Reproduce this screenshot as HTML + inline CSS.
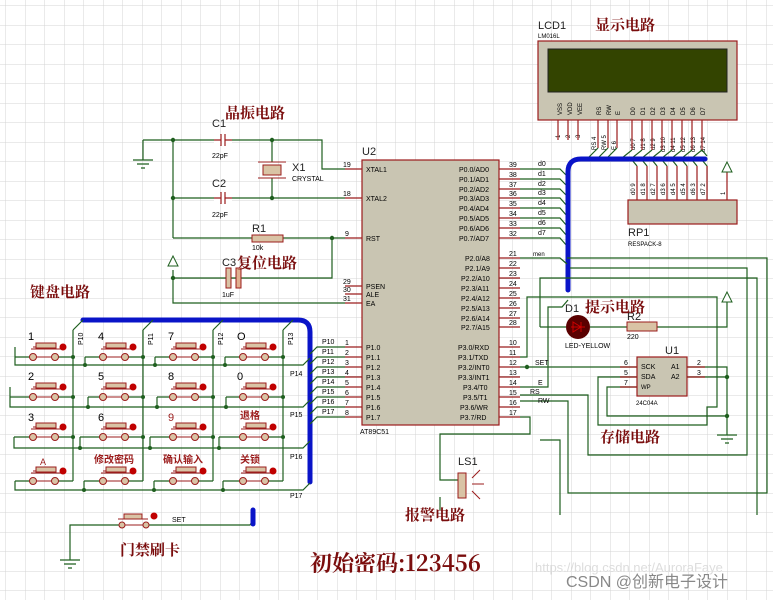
<!DOCTYPE html>
<html><head><meta charset="utf-8"><style>
html,body{margin:0;padding:0;background:#fff;}
svg{display:block;font-family:"Liberation Sans","Noto Sans CJK SC",sans-serif;}
.w{stroke:#1f5f1f;stroke-width:1.2;fill:none}
.p{stroke:#9b1c1c;stroke-width:1.2;fill:none}
.bus{stroke:#0a14c8;stroke-width:5;fill:none;stroke-linecap:round;stroke-linejoin:round}
.t{font-size:7px;fill:#000}
.s{font-size:9px;fill:#000}
.L{font-size:11px;fill:#222}
.cn{font-size:15px;font-weight:bold;fill:#7a0d0d;font-family:"Noto Serif CJK SC","Noto Sans CJK SC",serif}
.k{font-size:10px;font-weight:bold;fill:#9b1c1c}
.btn{fill:#d9c3a5;stroke:#9b1c1c;stroke-width:1}
.red{fill:#c00000}
.j{fill:#1f5f1f}
</style></head><body>
<svg width="773" height="600" viewBox="0 0 773 600" xmlns="http://www.w3.org/2000/svg">
<defs>
<pattern id="g" width="19.5" height="19.5" patternUnits="userSpaceOnUse" x="6" y="6">
<path d="M19.5 0V19.5M0 19.5H19.5" stroke="#d4d4d4" stroke-width="1"/>
</pattern>
<g id="key">
<line x1="22" y1="-10" x2="40" y2="-10" stroke="#9b1c1c" stroke-width="1"/>
<rect x="25" y="-14" width="20" height="5" class="btn"/>
<line x1="20" y1="-8" x2="50" y2="-8" stroke="#9b1c1c" stroke-width="1"/>
<circle cx="52" cy="-10" r="3.5" class="red"/>
<line x1="22" y1="0" x2="44" y2="0" stroke="#9b1c1c"/>
<circle cx="22" cy="0" r="3.5" class="btn"/>
<circle cx="44" cy="0" r="3.5" class="btn"/>
</g>
</defs>
<rect width="773" height="600" fill="#fff"/>
<rect width="773" height="600" fill="url(#g)"/>

<!-- crystal / reset -->
<path class="w" d="M143 140H322V169H345M173 140V238M173 198H345M173 238H345M332 238V278H173M173 270V303H345"/>
<path class="w" d="M143 140V160"/>
<path d="M133 160H153M137 164H149M141 168H145" stroke="#1f5f1f" stroke-width="1.2"/>
<path d="M173 256l-5 10h10z" fill="#fff" stroke="#1f5f1f"/>
<rect x="214" y="135" width="18" height="10" fill="#fff"/><path class="p" d="M214 140H221M221 134V146M225 134V146M225 140H232"/>
<rect x="214" y="193" width="18" height="10" fill="#fff"/><path class="p" d="M214 198H221M221 192V204M225 192V204M225 198H232"/>
<path class="w" d="M272 140V162M272 178V198"/>
<path d="M258 162H286M258 178H286" stroke="#9b1c1c"/>
<rect x="263" y="165" width="18" height="10" fill="#d9c3a5" stroke="#9b1c1c"/>
<rect x="252" y="235" width="31" height="7" fill="#d9c3a5" stroke="#9b1c1c"/>
<rect x="226" y="268" width="5" height="20" fill="#d9c3a5" stroke="#9b1c1c"/>
<rect x="236" y="268" width="5" height="20" fill="#e0b090" stroke="#9b1c1c"/>
<circle cx="173" cy="140" r="2.2" class="j"/><circle cx="272" cy="140" r="2.2" class="j"/><circle cx="173" cy="198" r="2.2" class="j"/><circle cx="272" cy="198" r="2.2" class="j"/><circle cx="332" cy="238" r="2.2" class="j"/><circle cx="173" cy="278" r="2.2" class="j"/>
<text x="212" y="127" class="L">C1</text><text x="212" y="158" class="t">22pF</text>
<text x="212" y="187" class="L">C2</text><text x="212" y="217" class="t">22pF</text>
<text x="292" y="171" class="L">X1</text><text x="292" y="181" class="t">CRYSTAL</text>
<text x="252" y="232" class="L">R1</text><text x="252" y="250" class="t">10k</text>
<text x="222" y="266" class="L">C3</text><text x="222" y="297" class="t">1uF</text>
<text x="225" y="118" class="cn">晶振电路</text>
<text x="237" y="268" class="cn">复位电路</text>
<text x="30" y="297" class="cn">键盘电路</text>

<!-- MCU -->
<rect x="362" y="160" width="137" height="265" fill="#c9c5b2" stroke="#9b1c1c" stroke-width="1.2"/>
<text x="362" y="155" class="L">U2</text>
<text x="360" y="434" class="t">AT89C51</text>
<path class="p" d="M345 169H362M345 198H362M345 238H362M345 286H362M345 294H362M345 303H362M345 347H362M345 357H362M345 367H362M345 377H362M345 387H362M345 397H362M345 407H362M345 417H362"/>
<g class="t">
<text x="343" y="167">19</text><text x="343" y="196">18</text><text x="345" y="236">9</text><text x="343" y="284">29</text><text x="343" y="292">30</text><text x="343" y="301">31</text>
<text x="345" y="345">1</text><text x="345" y="355">2</text><text x="345" y="365">3</text><text x="345" y="375">4</text><text x="345" y="385">5</text><text x="345" y="395">6</text><text x="345" y="405">7</text><text x="345" y="415">8</text>
<text x="366" y="172">XTAL1</text><text x="366" y="201">XTAL2</text><text x="366" y="241">RST</text><text x="366" y="289">PSEN</text><text x="366" y="297">ALE</text><text x="366" y="306">EA</text>
<text x="366" y="350">P1.0</text><text x="366" y="360">P1.1</text><text x="366" y="370">P1.2</text><text x="366" y="380">P1.3</text><text x="366" y="390">P1.4</text><text x="366" y="400">P1.5</text><text x="366" y="410">P1.6</text><text x="366" y="420">P1.7</text>
<text x="459" y="172">P0.0/AD0</text><text x="459" y="182">P0.1/AD1</text><text x="459" y="192">P0.2/AD2</text><text x="459" y="201">P0.3/AD3</text><text x="459" y="211">P0.4/AD4</text><text x="459" y="221">P0.5/AD5</text><text x="459" y="231">P0.6/AD6</text><text x="459" y="241">P0.7/AD7</text>
<text x="465" y="261">P2.0/A8</text><text x="465" y="271">P2.1/A9</text><text x="461" y="281">P2.2/A10</text><text x="461" y="291">P2.3/A11</text><text x="461" y="301">P2.4/A12</text><text x="461" y="311">P2.5/A13</text><text x="461" y="321">P2.6/A14</text><text x="461" y="330">P2.7/A15</text>
<text x="458" y="350">P3.0/RXD</text><text x="458" y="360">P3.1/TXD</text><text x="458" y="370">P3.2/INT0</text><text x="458" y="380">P3.3/INT1</text><text x="463" y="390">P3.4/T0</text><text x="463" y="400">P3.5/T1</text><text x="460" y="410">P3.6/WR</text><text x="460" y="420">P3.7/RD</text>
<text x="509" y="167">39</text><text x="509" y="177">38</text><text x="509" y="187">37</text><text x="509" y="196">36</text><text x="509" y="206">35</text><text x="509" y="216">34</text><text x="509" y="226">33</text><text x="509" y="236">32</text>
<text x="509" y="256">21</text><text x="509" y="266">22</text><text x="509" y="276">23</text><text x="509" y="286">24</text><text x="509" y="296">25</text><text x="509" y="306">26</text><text x="509" y="316">27</text><text x="509" y="325">28</text>
<text x="509" y="345">10</text><text x="509" y="355">11</text><text x="509" y="365">12</text><text x="509" y="375">13</text><text x="509" y="385">14</text><text x="509" y="395">15</text><text x="509" y="405">16</text><text x="509" y="415">17</text>
</g>
<path class="p" d="M499 169H520M499 179H520M499 189H520M499 198H520M499 208H520M499 218H520M499 228H520M499 238H520M499 258H520M499 268H520M499 278H520M499 288H520M499 298H520M499 308H520M499 318H520M499 327H520M499 347H520M499 357H520M499 367H520M499 377H520M499 387H520M499 397H520M499 407H520M499 417H520"/>
<path class="w" d="M520 169H560L567 176M520 179H560L567 186M520 189H560L567 196M520 198H560L567 206M520 208H560L567 216M520 218H560L567 226M520 228H560L567 236M520 238H560L567 246"/>
<g class="t"><text x="538" y="166">d0</text><text x="538" y="176">d1</text><text x="538" y="186">d2</text><text x="538" y="195">d3</text><text x="538" y="205">d4</text><text x="538" y="215">d5</text><text x="538" y="225">d6</text><text x="538" y="235">d7</text><text x="533" y="256" style="font-size:6px">men</text></g>

<!-- LCD -->
<rect x="538" y="41" width="199" height="79" fill="#c9c5b2" stroke="#9b1c1c" stroke-width="1.2"/>
<rect x="548" y="49" width="179" height="43" fill="#334400" stroke="#222"/>
<text x="538" y="29" class="L">LCD1</text><text x="538" y="38" class="t" style="font-size:6px">LM016L</text>
<text x="595" y="30" class="cn">显示电路</text>
<g class="t" style="font-size:6px">
<text transform="translate(562,115) rotate(-90)">VSS</text><text transform="translate(572,115) rotate(-90)">VDD</text><text transform="translate(582,115) rotate(-90)">VEE</text>
<text transform="translate(601,115) rotate(-90)">RS</text><text transform="translate(611,115) rotate(-90)">RW</text><text transform="translate(620,115) rotate(-90)">E</text>
<text transform="translate(635,115) rotate(-90)">D0</text><text transform="translate(645,115) rotate(-90)">D1</text><text transform="translate(655,115) rotate(-90)">D2</text><text transform="translate(665,115) rotate(-90)">D3</text><text transform="translate(675,115) rotate(-90)">D4</text><text transform="translate(685,115) rotate(-90)">D5</text><text transform="translate(695,115) rotate(-90)">D6</text><text transform="translate(705,115) rotate(-90)">D7</text>
<text transform="translate(560,138) rotate(-90)">1</text><text transform="translate(570,138) rotate(-90)">2</text><text transform="translate(580,138) rotate(-90)">3</text>
<text transform="translate(596,150) rotate(-90)">RS 4</text><text transform="translate(606,150) rotate(-90)">RW 5</text><text transform="translate(616,150) rotate(-90)">E 6</text>
<text transform="translate(635,150) rotate(-90)">d0 7</text><text transform="translate(645,150) rotate(-90)">d1 8</text><text transform="translate(655,150) rotate(-90)">d2 9</text><text transform="translate(665,152) rotate(-90)">d3 10</text><text transform="translate(675,152) rotate(-90)">d4 11</text><text transform="translate(685,152) rotate(-90)">d5 12</text><text transform="translate(695,152) rotate(-90)">d6 13</text><text transform="translate(705,152) rotate(-90)">d7 14</text>
<text transform="translate(635,195) rotate(-90)">d0 9</text><text transform="translate(645,195) rotate(-90)">d1 8</text><text transform="translate(655,195) rotate(-90)">d2 7</text><text transform="translate(665,195) rotate(-90)">d3 6</text><text transform="translate(675,195) rotate(-90)">d4 5</text><text transform="translate(685,195) rotate(-90)">d5 4</text><text transform="translate(695,195) rotate(-90)">d6 3</text><text transform="translate(705,195) rotate(-90)">d7 2</text><text transform="translate(725,195) rotate(-90)">1</text>
</g>
<path class="p" d="M558 120V140M568 120V140M578 120V140M598 120V148M608 120V148M617 120V148M632 120V150M642 120V150M652 120V150M662 120V150M672 120V150M682 120V150M692 120V150M702 120V150"/>
<path class="w" d="M598 148L588 158M608 148L598 158M617 148L607 158M632 150L622 158M642 150L632 158M652 150L642 158M662 150L652 158M672 150L662 158M682 150L672 158M692 150L682 158M702 150L692 158M702 150L707 156"/>
<path class="w" d="M632 160L637 166M642 160L647 166M652 160L657 166M662 160L667 166M672 160L677 166M682 160L687 166M692 160L697 166M702 160L707 166"/>
<path class="p" d="M637 166V200M647 166V200M657 166V200M667 166V200M677 166V200M687 166V200M697 166V200M707 166V200M727 172V200"/>
<path d="M727 162l-5 10h10z" fill="#fff" stroke="#1f5f1f"/>
<rect x="628" y="200" width="109" height="24" fill="#c9c5b2" stroke="#9b1c1c" stroke-width="1.2"/>
<text x="628" y="236" class="L">RP1</text><text x="628" y="246" class="t" style="font-size:6px">RESPACK-8</text>
<path class="bus" d="M568 290V172Q568 159 581 159H705"/>

<!-- right wiring -->
<path class="w" d="M520 258H560L567 264M567 258H767V493H568V401H520"/>
<path class="w" d="M570 268H747V455H588V395H520"/>
<path class="w" d="M540 327V278H757V515M560 515V440H540"/>
<path class="w" d="M540 327H566M590 327H627M657 327H727V302"/>
<path d="M727 292l-5 10h10z" fill="#fff" stroke="#1f5f1f"/>
<path class="w" d="M520 357H527V297H717V407H707V425H598V377H637"/>
<path class="w" d="M520 387H548V307H562L568 300"/>
<path class="w" d="M520 367H637"/><circle cx="527" cy="367" r="2.2" class="j"/>
<path class="w" d="M637 387H607V416H727M687 367H727V435M687 377H727"/>
<circle cx="727" cy="377" r="2.2" class="j"/><circle cx="727" cy="416" r="2.2" class="j"/>
<path d="M717 435H737M721 439H733M725 443H729" stroke="#1f5f1f" stroke-width="1.2"/>
<path class="w" d="M520 417H530V434H440V480H462"/>
<path class="w" d="M440 497V510"/>
<circle cx="578" cy="327" r="12" fill="#5a0000"/>
<path d="M571 327H585M581 322V332M581 327L573 322V332Z" stroke="#c00" fill="none"/>
<rect x="627" y="322" width="30" height="9" fill="#d9c3a5" stroke="#9b1c1c"/>
<text x="565" y="312" class="L">D1</text><text x="565" y="348" class="t" style="font-size:7px">LED-YELLOW</text>
<text x="627" y="320" class="L">R2</text><text x="627" y="339" class="t">220</text>
<text x="585" y="312" class="cn">提示电路</text>
<rect x="637" y="357" width="50" height="39" fill="#c9c5b2" stroke="#9b1c1c" stroke-width="1.2"/>
<path class="p" d="M620 367H637M620 377H637M620 387H637M687 367H705M687 377H705"/>
<g class="t"><text x="641" y="369">SCK</text><text x="641" y="379">SDA</text><text x="641" y="389" style="font-size:6px">WP</text><text x="671" y="369">A1</text><text x="671" y="379">A2</text>
<text x="624" y="365">6</text><text x="624" y="375">5</text><text x="624" y="385">7</text><text x="697" y="365">2</text><text x="697" y="375">3</text>
<text x="636" y="405" style="font-size:6px">24C04A</text><text x="535" y="365">SET</text><text x="538" y="385">E</text><text x="530" y="394">RS</text><text x="538" y="403">RW</text></g>
<text x="665" y="354" class="L">U1</text>
<text x="600" y="442" class="cn">存储电路</text>

<!-- LS1 -->
<rect x="458" y="473" width="8" height="25" fill="#d9c3a5" stroke="#9b1c1c"/>
<path d="M472 478L480 470M472 484H484M472 491L480 499" stroke="#9b1c1c"/>
<text x="458" y="465" class="L">LS1</text>
<text x="405" y="520" class="cn">报警电路</text>

<!-- keypad -->
<path class="bus" d="M83 320H298Q310 320 310 332V482"/>
<path class="w" d="M73 330L83 320M143 330L153 320M213 330L223 320M283 330L293 320"/>
<path class="w" d="M73 330V481M143 330V481M213 330V481M283 330V481"/>
<path class="w" d="M15 347V365H303L310 358M85 357V365M155 357V365M225 357V365"/>
<path class="w" d="M10 387V407H303L310 400M88 397V407M157 397V407M226 397V407"/>
<path class="w" d="M14 437V448H303L310 441M80 437V448M150 437V448M219 437V448"/>
<path class="w" d="M15 481V490H303L310 483M84 481V490M154 481V490M223 481V490"/>
<g class="w"><path d="M15 357H33M57 357H73M85 357H103M127 357H143M155 357H173M197 357H213M225 357H243M267 357H283"/>
<path d="M10 397H33M57 397H73M88 397H103M127 397H143M157 397H173M197 397H213M226 397H243M267 397H283"/>
<path d="M14 437H33M57 437H73M80 437H103M127 437H143M150 437H173M197 437H213M219 437H243M267 437H283"/>
<path d="M15 481H33M57 481H73M84 481H103M127 481H143M154 481H173M197 481H213M223 481H243M267 481H283"/></g>
<g>
<use href="#key" x="11" y="357"/><use href="#key" x="81" y="357"/><use href="#key" x="151" y="357"/><use href="#key" x="221" y="357"/>
<use href="#key" x="11" y="397"/><use href="#key" x="81" y="397"/><use href="#key" x="151" y="397"/><use href="#key" x="221" y="397"/>
<use href="#key" x="11" y="437"/><use href="#key" x="81" y="437"/><use href="#key" x="151" y="437"/><use href="#key" x="221" y="437"/>
<use href="#key" x="11" y="481"/><use href="#key" x="81" y="481"/><use href="#key" x="151" y="481"/><use href="#key" x="221" y="481"/>
</g>
<g class="j"><circle cx="73" cy="357" r="2"/><circle cx="143" cy="357" r="2"/><circle cx="213" cy="357" r="2"/><circle cx="283" cy="357" r="2"/><circle cx="85" cy="365" r="2"/><circle cx="155" cy="365" r="2"/><circle cx="225" cy="365" r="2"/>
<circle cx="73" cy="397" r="2"/><circle cx="143" cy="397" r="2"/><circle cx="213" cy="397" r="2"/><circle cx="283" cy="397" r="2"/><circle cx="88" cy="407" r="2"/><circle cx="157" cy="407" r="2"/><circle cx="226" cy="407" r="2"/>
<circle cx="73" cy="437" r="2"/><circle cx="143" cy="437" r="2"/><circle cx="213" cy="437" r="2"/><circle cx="283" cy="437" r="2"/><circle cx="80" cy="448" r="2"/><circle cx="150" cy="448" r="2"/><circle cx="219" cy="448" r="2"/>
<circle cx="84" cy="490" r="2"/><circle cx="154" cy="490" r="2"/><circle cx="223" cy="490" r="2"/></g>
<g class="s" style="font-size:11px">
<text x="28" y="340">1</text><text x="98" y="340">4</text><text x="168" y="340">7</text><text x="237" y="340">O</text>
<text x="28" y="380">2</text><text x="98" y="380">5</text><text x="168" y="380">8</text><text x="237" y="380">0</text>
<text x="28" y="421">3</text><text x="98" y="421">6</text><text x="168" y="421" fill="#9b1c1c">9</text>
<text x="40" y="465" fill="#9b1c1c" style="font-size:9px">A</text></g>
<text x="240" y="419" class="k">退格</text><text x="94" y="463" class="k">修改密码</text><text x="163" y="463" class="k">确认输入</text><text x="240" y="463" class="k">关锁</text>
<g class="t"><text transform="translate(83,345) rotate(-90)">P10</text><text transform="translate(153,345) rotate(-90)">P11</text><text transform="translate(223,345) rotate(-90)">P12</text><text transform="translate(293,345) rotate(-90)">P13</text>
<text x="290" y="376">P14</text><text x="290" y="417">P15</text><text x="290" y="459">P16</text><text x="290" y="498">P17</text>
<text x="322" y="344">P10</text><text x="322" y="354">P11</text><text x="322" y="364">P12</text><text x="322" y="374">P13</text><text x="322" y="384">P14</text><text x="322" y="394">P15</text><text x="322" y="404">P16</text><text x="322" y="414">P17</text></g>
<path class="w" d="M310 354L317 347H345M310 364L317 357H345M310 374L317 367H345M310 384L317 377H345M310 394L317 387H345M310 404L317 397H345M310 414L317 407H345M310 424L317 417H345"/>

<!-- SET -->
<path class="w" d="M70 560V525H120M147 525H250L253 520"/>
<path class="bus" d="M253 510V524"/>
<line x1="120" y1="525" x2="147" y2="525" stroke="#9b1c1c"/>
<circle cx="122" cy="525" r="3" class="btn"/><circle cx="146" cy="525" r="3" class="btn"/>
<rect x="124" y="514" width="18" height="5" class="btn"/><line x1="118" y1="519" x2="148" y2="519" stroke="#9b1c1c"/>
<circle cx="154" cy="516" r="3.5" class="red"/>
<text x="172" y="522" class="t">SET</text>
<path d="M60 560H80M64 564H76M68 568H72" stroke="#1f5f1f" stroke-width="1.2"/>
<text x="120" y="555" class="cn">门禁刷卡</text>

<text x="310" y="571" style="font-size:22px;font-weight:bold;fill:#7a0d0d;font-family:'Noto Serif CJK SC','Liberation Sans',serif">初始密码:123456</text>
<text x="535" y="572" style="font-size:13px;fill:#ddd">https://blog.csdn.net/AuroraFaye</text>
<text x="566" y="587" style="font-size:16px;fill:#888">CSDN @创新电子设计</text>
</svg>
</body></html>
